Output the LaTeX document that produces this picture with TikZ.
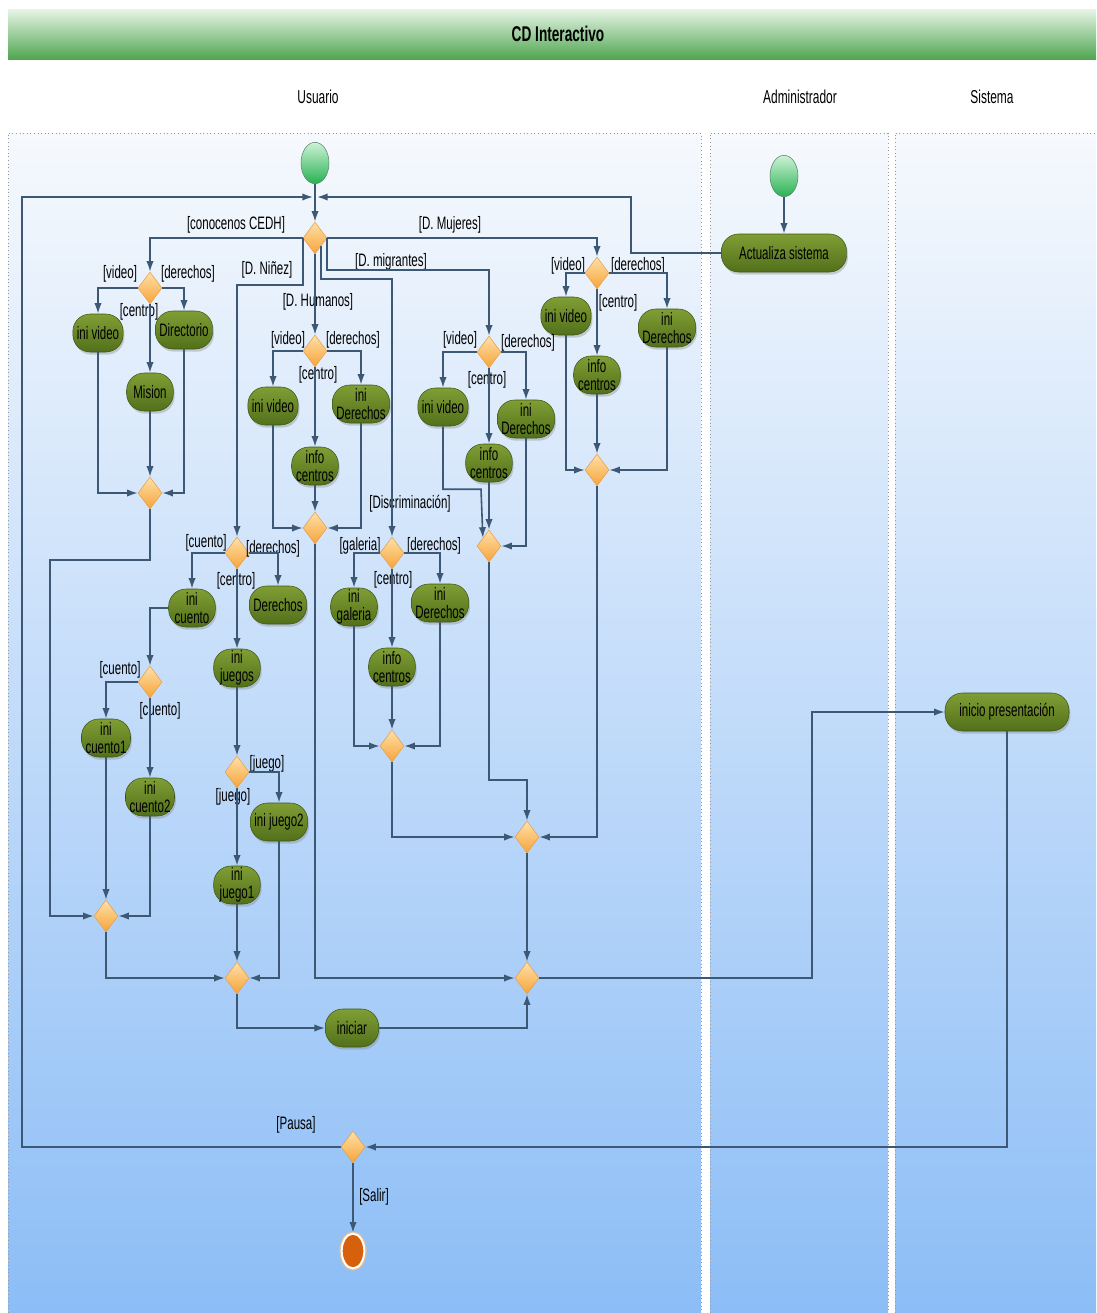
\documentclass[tikz,border=0pt]{standalone}
\usepackage{fontspec}
\setmainfont{Liberation Sans}[FakeStretch=0.64]
\usetikzlibrary{shapes.geometric,arrows.meta,shadows}

\definecolor{flowblue}{RGB}{60,88,116}
\definecolor{acttop}{RGB}{128,158,52}
\definecolor{actbot}{RGB}{82,112,26}
\definecolor{actline}{RGB}{62,86,20}
\definecolor{dectop}{RGB}{255,224,168}
\definecolor{decbot}{RGB}{246,164,58}
\definecolor{decline}{RGB}{230,158,70}
\definecolor{starttop}{RGB}{205,242,214}
\definecolor{startbot}{RGB}{40,178,82}
\definecolor{startline}{RGB}{88,130,110}
\definecolor{endfill}{RGB}{214,96,12}
\definecolor{endring}{RGB}{226,190,150}
\definecolor{lanetop}{RGB}{246,249,253}
\definecolor{lanebot}{RGB}{140,189,246}
\definecolor{bartop}{RGB}{228,244,228}
\definecolor{barbot}{RGB}{78,164,78}

\begin{document}
\begin{tikzpicture}[x=0.75pt,y=-0.75pt,
  flow/.style={draw=flowblue,line width=1.2pt,-{Latex[length=8pt,width=5.5pt]}},
  activity node/.style={rectangle,rounded corners=13pt,draw=actline,top color=acttop,bottom color=actbot,
    drop shadow={shadow xshift=1pt,shadow yshift=-2pt,opacity=0.35},minimum height=28.5pt,minimum width=35pt,
    inner xsep=3pt,inner ysep=0.5pt,align=center,font=\fontsize{13.5}{14}\selectfont},
  decision node/.style={diamond,draw=decline,top color=dectop,bottom color=decbot,minimum width=18pt,minimum height=24pt,inner sep=0pt},
  start node/.style={ellipse,draw=startline,top color=starttop,bottom color=startbot,minimum width=21pt,minimum height=31pt,inner sep=0pt},
  end node/.style={ellipse,fill=endfill,draw=white,line width=1.5pt,preaction={draw=endring,line width=3.5pt},minimum width=17pt,minimum height=26pt,inner sep=0pt},
  guard/.style={font=\fontsize{13.5}{14}\selectfont,inner sep=1pt},
  lane title/.style={font=\fontsize{14}{15}\selectfont},
  lane line/.style={draw=gray!80,dotted,line width=0.7pt}]
\useasboundingbox (0,0) rectangle (1096,1313);

% cabecera y carriles
\shade[top color=bartop,bottom color=barbot] (8,10) rectangle (1096,60);
\node[font=\fontsize{16}{17}\selectfont\bfseries] (titulo) at (558,34) {CD Interactivo};
\shade[top color=lanetop,bottom color=lanebot] (8,133) rectangle (701,1313);
\shade[top color=lanetop,bottom color=lanebot] (710,133) rectangle (888,1313);
\shade[top color=lanetop,bottom color=lanebot] (895,133) rectangle (1096,1313);
\draw[lane line] (8,1313) -- (8,133) -- (701,133) -- (701,1313);
\draw[lane line] (710,1313) -- (710,133) -- (888,133) -- (888,1313);
\draw[lane line] (895,1313) -- (895,133) -- (1096,133);
\node[lane title] (usuario) at (318,97) {Usuario};
\node[lane title] (admin) at (800,97) {Administrador};
\node[lane title] (sistema) at (992,97) {Sistema};

% nodos
\node[start node] (start) at (315,163) {};
\node[start node] (adminStart) at (784,176) {};
\node[activity node,minimum width=94pt] (actualiza) at (784,253) {Actualiza sistema};
\node[decision node] (d0) at (315,238) {};
\coordinate (loopL) at (313,197);
\coordinate (loopR) at (317,197);

\node[decision node] (d1) at (150,288) {};
\node[activity node] (iniVideoA) at (98,333) {ini video};
\node[activity node] (directorio) at (184,330) {Directorio};
\node[activity node] (mision) at (150,392) {Mision};
\node[decision node] (m1) at (150,493) {};

\node[decision node] (d2) at (315,351) {};
\node[activity node] (iniVideoH) at (273,406) {ini video};
\node[activity node] (iniDerH) at (361,404) {ini\\Derechos};
\node[activity node] (infoH) at (315,466) {info\\centros};
\node[decision node] (m2) at (315,528) {};

\node[decision node] (d3) at (489,352) {};
\node[activity node] (iniVideoM) at (443,407) {ini video};
\node[activity node] (iniDerM) at (526,419) {ini\\Derechos};
\node[activity node] (infoM) at (489,463) {info\\centros};
\node[decision node] (m3) at (489,546) {};

\node[decision node] (d5) at (597,273) {};
\node[activity node] (iniVideoW) at (566,316) {ini video};
\node[activity node] (infoW) at (597,375) {info\\centros};
\node[activity node] (iniDerW) at (667,328) {ini\\Derechos};
\node[decision node] (m5) at (597,470) {};

\node[decision node] (dN) at (237,553) {};
\node[activity node] (iniCuento) at (192,608) {ini\\cuento};
\node[activity node] (derN) at (278,605) {Derechos};
\node[activity node] (iniJuegos) at (237,668) {ini\\juegos};
\node[decision node] (dC) at (150,682) {};
\node[activity node] (iniCuento1) at (106,738) {ini\\cuento1};
\node[activity node] (iniCuento2) at (150,797) {ini\\cuento2};
\node[decision node] (dJ) at (237,772) {};
\node[activity node] (iniJuego2) at (279,822) {ini juego2};
\node[activity node] (iniJuego1) at (237,885) {ini\\juego1};
\node[decision node] (mC) at (106,916) {};
\node[decision node] (mN) at (237,978) {};
\node[activity node,minimum width=40pt] (iniciar) at (352,1028) {iniciar};

\node[decision node] (dD) at (392,553) {};
\node[activity node] (iniGaleria) at (354,607) {ini\\galeria};
\node[activity node] (iniDerD) at (440,603) {ini\\Derechos};
\node[activity node] (infoD) at (392,667) {info\\centros};
\node[decision node] (m4) at (392,746) {};

\node[decision node] (mJ) at (527,837) {};
\node[decision node] (mF) at (527,978) {};
\node[activity node,minimum width=93pt] (inicio) at (1007,712) {inicio presentación};
\node[decision node] (dP) at (353,1147) {};
\node[end node] (final) at (353,1251) {};

% guardas
\node[guard] (gConocenos) at (236,225) {[conocenos CEDH]};
\node[guard] (gMujeres) at (450,225) {[D. Mujeres]};
\node[guard] (gNinez) at (267,270) {[D. Niñez]};
\node[guard] (gMigrantes) at (391,262) {[D. migrantes]};
\node[guard] (gHumanos) at (318,302) {[D. Humanos]};
\node[guard] (gDiscrim) at (410,504) {[Discriminación]};
\node[guard] (g1a) at (120,274) {[video]};
\node[guard] (g1b) at (188,274) {[derechos]};
\node[guard] (g1c) at (139,312) {[centro]};
\node[guard] (g2a) at (288,340) {[video]};
\node[guard] (g2b) at (353,340) {[derechos]};
\node[guard] (g2c) at (318,375) {[centro]};
\node[guard] (g3a) at (460,340) {[video]};
\node[guard] (g3b) at (528,343) {[derechos]};
\node[guard] (g3c) at (487,380) {[centro]};
\node[guard] (g5a) at (568,266) {[video]};
\node[guard] (g5b) at (638,266) {[derechos]};
\node[guard] (g5c) at (618,303) {[centro]};
\node[guard] (gNa) at (206,543) {[cuento]};
\node[guard] (gNb) at (273,549) {[derechos]};
\node[guard] (gNc) at (236,581) {[centro]};
\node[guard] (gCa) at (120,670) {[cuento]};
\node[guard] (gCb) at (160,711) {[cuento]};
\node[guard] (gJa) at (267,764) {[juego]};
\node[guard] (gJb) at (233,797) {[juego]};
\node[guard] (gDa) at (360,546) {[galeria]};
\node[guard] (gDb) at (434,546) {[derechos]};
\node[guard] (gDc) at (393,580) {[centro]};
\node[guard] (gPausa) at (296,1125) {[Pausa]};
\node[guard] (gSalir) at (374,1197) {[Salir]};

% flujos
\draw [flow] (start) -- (d0);
\draw [flow] (adminStart) -- (actualiza);
\draw [flow] (actualiza.west) -| (631,197) -- (loopR);
\draw [flow] (dP.west) -| (22,197) -- (loopL);
\draw [flow] (d0.west) -| (d1);
\draw [flow] (d0.east) -| (d5);
\draw [flow] (d0.west) -- ++(0,47) -| (dN);
\draw [flow] (d0) -- (d2);
\draw [flow] (d0.east) -- ++(0,32) -| (d3);
\draw [flow] (d0.south east) -- ++(0,33) -| (dD);

\draw [flow] (d1.west) -| (iniVideoA);
\draw [flow] (d1.east) -| (directorio);
\draw [flow] (d1) -- (mision);
\draw [flow] (iniVideoA) |- (m1);
\draw [flow] (directorio) |- (m1);
\draw [flow] (mision) -- (m1);
\draw [flow] (m1.south) |- (50,560) |- (mC);

\draw [flow] (d2.west) -| (iniVideoH);
\draw [flow] (d2.east) -| (iniDerH);
\draw [flow] (d2) -- (infoH);
\draw [flow] (iniVideoH) |- (m2);
\draw [flow] (iniDerH) |- (m2);
\draw [flow] (infoH) -- (m2);
\draw [flow] (m2) |- (mF);

\draw [flow] (d3.west) -| (iniVideoM);
\draw [flow] (d3.east) -| (iniDerM);
\draw [flow] (d3) -- (infoM);
\draw [flow] (iniVideoM.south) -- ++(0,63) -- ++(38,0) -- (m3.north west);
\draw [flow] (infoM) -- (m3);
\draw [flow] (iniDerM) |- (m3);
\draw [flow] (m3.south) |- (527,780) -- (mJ);

\draw [flow] (d5.west) -| (iniVideoW);
\draw [flow] (d5.east) -| (iniDerW);
\draw [flow] (d5) -- (infoW);
\draw [flow] (iniVideoW) |- (m5);
\draw [flow] (iniDerW) |- (m5);
\draw [flow] (infoW) -- (m5);
\draw [flow] (m5) |- (mJ);

\draw [flow] (dN.west) -| (iniCuento);
\draw [flow] (dN.east) -| (derN);
\draw [flow] (dN) -- (iniJuegos);
\draw [flow] (iniCuento.west) -| (dC);
\draw [flow] (dC.west) -| (iniCuento1);
\draw [flow] (dC) -- (iniCuento2);
\draw [flow] (iniCuento1) -- (mC);
\draw [flow] (iniCuento2) |- (mC);
\draw [flow] (mC) |- (mN);
\draw [flow] (iniJuegos) -- (dJ);
\draw [flow] (dJ.east) -| (iniJuego2);
\draw [flow] (dJ) -- (iniJuego1);
\draw [flow] (iniJuego1) -- (mN);
\draw [flow] (iniJuego2) |- (mN);
\draw [flow] (mN) |- (iniciar);
\draw [flow] (iniciar) -| (mF);

\draw [flow] (dD.west) -| (iniGaleria);
\draw [flow] (dD.east) -| (iniDerD);
\draw [flow] (dD) -- (infoD);
\draw [flow] (iniGaleria) |- (m4);
\draw [flow] (iniDerD) |- (m4);
\draw [flow] (infoD) -- (m4);
\draw [flow] (m4) |- (mJ);

\draw [flow] (mJ) -- (mF);
\draw [flow] (mF) -| (812,712) -- (inicio);
\draw [flow] (inicio) |- (dP);
\draw [flow] (dP) -- (final);
\end{tikzpicture}
\end{document}
